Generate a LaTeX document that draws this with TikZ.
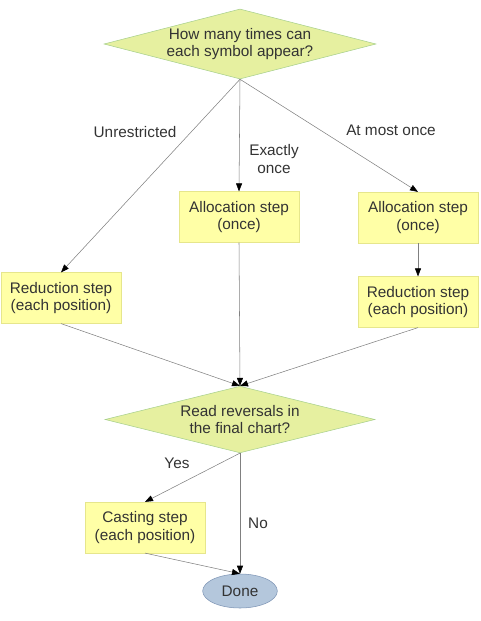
\documentclass[tikz,border=0pt]{standalone}
\usepackage{fontspec}
\setmainfont{Liberation Sans}
\usetikzlibrary{shapes.geometric,arrows.meta}
\definecolor{boxfill}{HTML}{FFFFA6}
\definecolor{boxline}{HTML}{E6E68C}
\definecolor{askfill}{HTML}{E6F0A0}
\definecolor{askline}{HTML}{A8D08D}
\definecolor{endfill}{HTML}{B4C7DC}
\definecolor{endline}{HTML}{7E95B5}
\definecolor{txt}{HTML}{333333}
\begin{document}
\begin{tikzpicture}[x=0.75pt,y=-0.75pt,-{Triangle[length=6pt,width=4.5pt,color=black]},draw=black!50,line width=0.4pt,
    font=\fontsize{11.5}{13.3}\selectfont,text=txt]
    \tikzstyle{every node}=[align=center]
    \tikzstyle{question}=[diamond,aspect=3.9,fill=askfill,draw=askline,inner sep=0pt]
    \tikzstyle{stepbox}=[rectangle,fill=boxfill,draw=boxline,minimum width=90pt,minimum height=38pt,inner sep=0pt]
    \tikzstyle{finish}=[ellipse,fill=endfill,draw=endline,minimum width=56pt,minimum height=25.5pt,inner sep=0pt]
    \tikzstyle{annot}=[inner sep=1pt]
    \useasboundingbox (0,0) rectangle (480,621);

    % Questions
    \node[question,minimum width=204pt,minimum height=52.5pt] (Q-1) at (240,44) {How many times can\\each symbol appear?};
    \node[question,minimum width=202.5pt,minimum height=50pt] (Q-2) at (240,419.5) {Read reversals in\\the final chart?};

    % Steps
    \node[stepbox] (R-1) at (61,298) {Reduction step\\(each position)};
    \node[stepbox] (A-1) at (239,217) {Allocation step\\(once)};
    \node[stepbox] (A-2) at (418,217.5) {Allocation step\\(once)};
    \node[stepbox] (R-2) at (418,302) {Reduction step\\(each position)};
    \node[stepbox] (C) at (145,527.5) {Casting step\\(each position)};
    \node[finish] (D) at (240,591) {Done};

    % Connections
    \path (Q-1.south) edge (R-1.north);
    \path (Q-1.south) edge (A-1.north);
    \path (Q-1.south) edge (A-2.north);
    \path (A-2) edge (R-2);
    \path (R-1.south) edge (Q-2.north);
    \path (A-1.south) edge (Q-2.north);
    \path (R-2.south) edge (Q-2.north);
    \path (Q-2.south) edge (C.north);
    \path (Q-2.south) edge (D.north);
    \path (C.south) edge (D.north);

    % Annotate the branches
    \node[annot] (L-1) at (135,132) {Unrestricted};
    \node[annot] (L-2) at (274,159) {Exactly\\once};
    \node[annot] (L-3) at (391,130) {At most once};
    \node[annot] (L-4) at (177,463) {Yes};
    \node[annot] (L-5) at (258,523) {No};
\end{tikzpicture}
\end{document}
